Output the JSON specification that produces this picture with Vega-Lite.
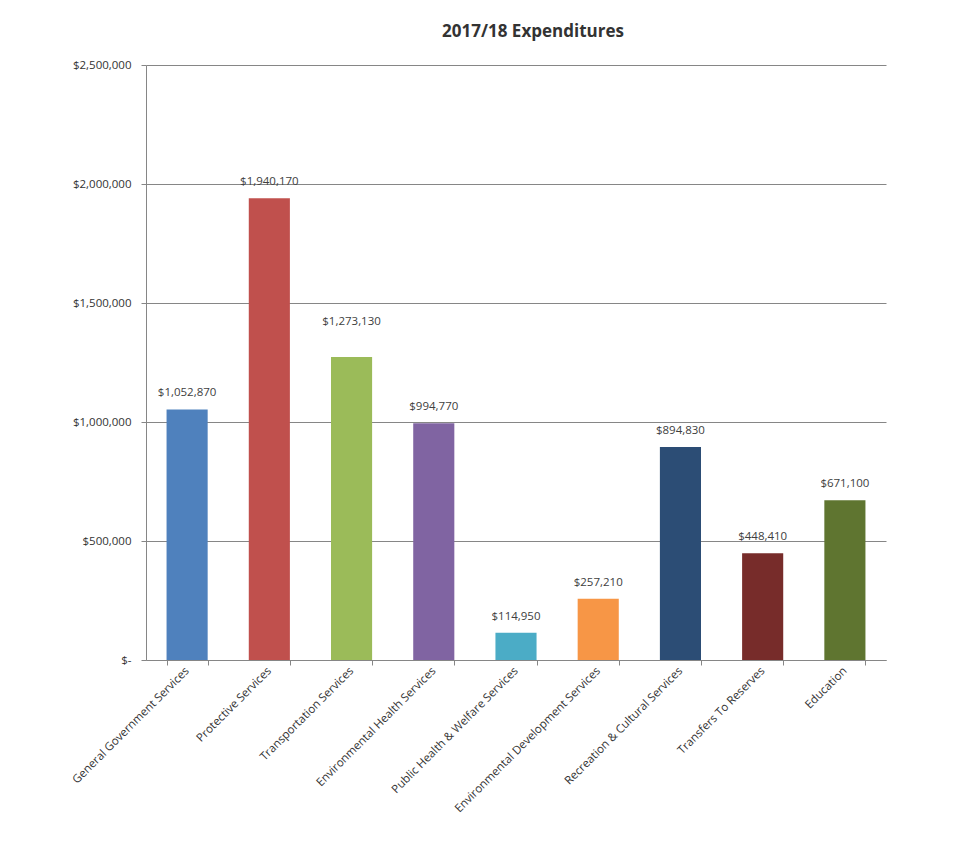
{
  "$schema": "https://vega.github.io/schema/vega-lite/v6.json",
  "width": 740,
  "height": 595,
  "autosize": "none",
  "padding": {"left": 146, "top": 65, "right": 69, "bottom": 197},
  "background": "white",
  "title": {
    "text": "2017/18 Expenditures",
    "font": "Open Sans",
    "fontSize": 17,
    "fontWeight": "bold",
    "color": "#333333",
    "anchor": "middle",
    "dx": 17,
    "offset": 18
  },
  "config": {
    "view": {"stroke": null},
    "axis": {"labelFont": "Open Sans", "labelFontSize": 11.5, "labelColor": "#333333", "labelLimit": 400},
    "text": {"font": "Open Sans"}
  },
  "data": {
    "values": [
      {"category": "General  Government Services", "amount": 1052870},
      {"category": "Protective  Services", "amount": 1940170},
      {"category": "Transportation  Services", "amount": 1273130},
      {"category": "Environmental  Health Services", "amount": 994770},
      {"category": "Public Health & Welfare Services", "amount": 114950},
      {"category": "Environmental Development Services", "amount": 257210},
      {"category": "Recreation & Cultural Services", "amount": 894830},
      {"category": "Transfers To Reserves", "amount": 448410},
      {"category": "Education", "amount": 671100}
    ]
  },
  "encoding": {
    "x": {
      "field": "category",
      "type": "nominal",
      "sort": null,
      "scale": {"paddingInner": 0.5, "paddingOuter": 0.25},
      "axis": {
        "title": null,
        "labelAngle": -45,
        "labelAlign": "right",
        "labelBaseline": "middle",
        "labelPadding": 4,
        "tickBand": "extent",
        "tickSize": 5,
        "tickColor": "#868686",
        "domainColor": "#868686",
        "grid": false
      }
    },
    "y": {
      "field": "amount",
      "type": "quantitative",
      "scale": {"domain": [0, 2500000], "nice": false},
      "axis": {
        "title": null,
        "values": [0, 500000, 1000000, 1500000, 2000000, 2500000],
        "labelExpr": "datum.value == 0 ? '$-' : '$' + format(datum.value, ',')",
        "tickSize": 5,
        "tickColor": "#868686",
        "domainColor": "#868686",
        "gridColor": "#868686",
        "labelPadding": 10
      }
    }
  },
  "layer": [
    {
      "mark": {"type": "bar"},
      "encoding": {
        "color": {
          "field": "category",
          "type": "nominal",
          "sort": null,
          "legend": null,
          "scale": {
            "domain": [
              "General  Government Services",
              "Protective  Services",
              "Transportation  Services",
              "Environmental  Health Services",
              "Public Health & Welfare Services",
              "Environmental Development Services",
              "Recreation & Cultural Services",
              "Transfers To Reserves",
              "Education"
            ],
            "range": ["#4F81BD", "#C0504D", "#9BBB59", "#8064A2", "#4BACC6", "#F79646", "#2C4D75", "#772C2A", "#5F7530"]
          }
        }
      }
    },
    {
      "transform": [{"filter": "datum.category != 'Transportation  Services'"}],
      "mark": {"type": "text", "baseline": "middle", "dy": -16, "fontSize": 11.5, "color": "#404040"},
      "encoding": {"text": {"field": "amount", "type": "quantitative", "format": "$,.0f"}}
    },
    {
      "transform": [{"filter": "datum.category == 'Transportation  Services'"}],
      "mark": {"type": "text", "baseline": "middle", "dy": -35, "fontSize": 11.5, "color": "#404040"},
      "encoding": {"text": {"field": "amount", "type": "quantitative", "format": "$,.0f"}}
    }
  ]
}
